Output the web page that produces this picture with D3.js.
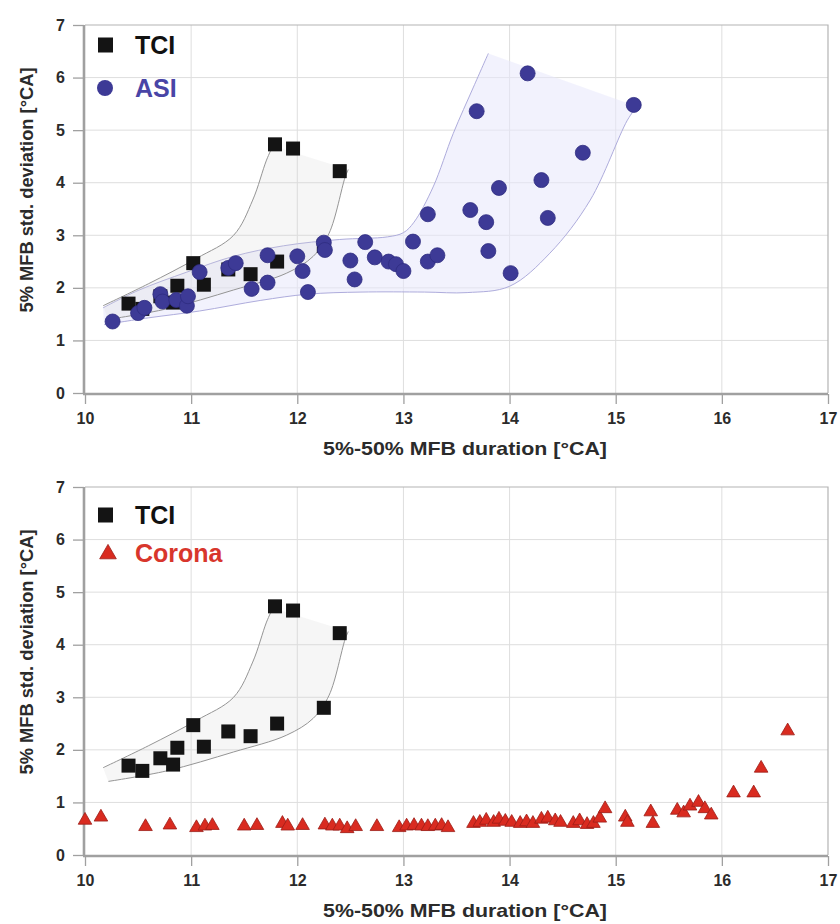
<!DOCTYPE html>
<html>
<head>
<meta charset="utf-8">
<script src="https://cdn.jsdelivr.net/npm/d3@7/dist/d3.min.js"></script>
<style>
  html, body { margin: 0; padding: 0; background: #fff; }
  svg { display: block; }
  text { font-family: "Liberation Sans", Arial, sans-serif; font-weight: bold; }
</style>
</head>
<body>
<svg id="chart" width="840" height="924"></svg>
<script>
// Axis ticks
const xTicks = [10, 11, 12, 13, 14, 15, 16, 17];
const yTicks = [0, 1, 2, 3, 4, 5, 6, 7];

// TCI: [5%-50% MFB duration, 5% MFB std. deviation]
const tciPoints = [
  [10.41, 1.70], [10.54, 1.60], [10.71, 1.84], [10.83, 1.72], [10.87, 2.04],
  [11.02, 2.47], [11.12, 2.06], [11.35, 2.35], [11.56, 2.26], [11.81, 2.50],
  [11.79, 4.73], [11.96, 4.65], [12.25, 2.80], [12.40, 4.22]
];

// ASI
const asiPoints = [
  [10.26, 1.36], [10.50, 1.52], [10.56, 1.62], [10.71, 1.88], [10.73, 1.74],
  [10.86, 1.77], [10.96, 1.66], [10.97, 1.84], [11.08, 2.30], [11.35, 2.38],
  [11.42, 2.47], [11.57, 1.98], [11.72, 2.10], [11.72, 2.62], [12.00, 2.60],
  [12.05, 2.32], [12.10, 1.92], [12.25, 2.86], [12.26, 2.72], [12.50, 2.52],
  [12.54, 2.16], [12.64, 2.87], [12.73, 2.58], [12.86, 2.50], [12.93, 2.45],
  [13.00, 2.32], [13.09, 2.88], [13.23, 3.40], [13.23, 2.50], [13.32, 2.62],
  [13.63, 3.48], [13.69, 5.36], [13.78, 3.25], [13.80, 2.70], [13.90, 3.90],
  [14.01, 2.28], [14.17, 6.08], [14.30, 4.05], [14.36, 3.33], [14.69, 4.57],
  [15.17, 5.48]
];

// Corona
const coronaPoints = [
  [10.00, 0.66], [10.15, 0.72], [10.57, 0.54], [10.80, 0.57], [11.05, 0.52],
  [11.13, 0.55], [11.20, 0.56], [11.50, 0.55], [11.62, 0.56], [11.86, 0.60],
  [11.91, 0.55], [12.05, 0.56], [12.26, 0.57], [12.33, 0.55], [12.40, 0.55],
  [12.47, 0.50], [12.55, 0.54], [12.75, 0.54], [12.96, 0.52], [13.03, 0.55],
  [13.10, 0.56], [13.17, 0.55], [13.23, 0.54], [13.30, 0.55], [13.36, 0.56],
  [13.42, 0.52], [13.66, 0.60], [13.72, 0.62], [13.78, 0.66], [13.85, 0.62],
  [13.90, 0.68], [13.96, 0.64], [14.02, 0.62], [14.10, 0.60], [14.16, 0.63],
  [14.22, 0.60], [14.30, 0.68], [14.36, 0.70], [14.43, 0.65], [14.48, 0.62],
  [14.60, 0.60], [14.66, 0.65], [14.73, 0.58], [14.79, 0.60], [14.85, 0.70],
  [14.90, 0.88], [15.09, 0.72], [15.11, 0.62], [15.33, 0.82], [15.35, 0.60],
  [15.58, 0.85], [15.64, 0.80], [15.70, 0.93], [15.78, 1.00], [15.84, 0.88],
  [15.90, 0.76], [16.11, 1.18], [16.30, 1.18], [16.37, 1.65], [16.62, 2.36]
];

// Hand-drawn scatter envelopes (upper edge, lower edge)
const tciBandUpper = [[10.17, 1.66], [10.60, 2.08], [11.05, 2.56], [11.40, 3.00], [11.58, 3.67], [11.71, 4.43], [11.77, 4.70]];
const tciBandLower = [[10.22, 1.40], [10.77, 1.60], [11.40, 1.96], [11.90, 2.28], [12.15, 2.60], [12.30, 3.04], [12.45, 4.10], [12.48, 4.25]];
const asiBandUpper = [[10.17, 1.62], [10.50, 1.95], [10.96, 2.30], [11.40, 2.60], [11.87, 2.80], [12.40, 2.92], [12.85, 2.97], [13.00, 3.05], [13.10, 3.25], [13.28, 3.92], [13.47, 4.94], [13.66, 5.82], [13.80, 6.46]];
const asiBandLower = [[10.18, 1.30], [10.60, 1.43], [11.08, 1.56], [11.65, 1.76], [12.10, 1.88], [12.60, 1.92], [13.20, 1.92], [13.60, 1.91], [14.00, 2.03], [14.38, 2.66], [14.76, 3.67], [15.11, 5.19], [15.20, 5.45]];

const xTitle = "5%-50% MFB duration [°CA]";
const yTitle = "5% MFB std. deviation [°CA]";

const C = {
  tci: "#141414",
  asi: "#3d3a96", asiText: "#4945a6",
  corona: "#d92b20", coronaStroke: "#9c1d16", coronaText: "#d8362c",
  text: "#2b2b2b", grid: "#dedede", frame: "#b4b4b4", axis: "#a0a0a0"
};

const svg = d3.select("#chart");
const x = d3.scaleLinear().domain([10, 17]).range([85, 828]);

function panel(top, series, legend) {
  const y = d3.scaleLinear().domain([0, 7]).range([top + 368, top]);
  const g = svg.append("g");
  const x0 = x.range()[0], x1 = x.range()[1], yb = y(0), yt = y(7);

  // grid
  g.append("g").selectAll("line").data(xTicks.slice(1, -1)).join("line")
    .attr("x1", d => x(d)).attr("x2", d => x(d)).attr("y1", yt).attr("y2", yb)
    .attr("stroke", C.grid).attr("stroke-width", 1);
  g.append("g").selectAll("line").data(yTicks.slice(1, -1)).join("line")
    .attr("x1", x0).attr("x2", x1).attr("y1", d => y(d)).attr("y2", d => y(d))
    .attr("stroke", C.grid).attr("stroke-width", 1);
  // frame top/right
  g.append("path").attr("d", `M${x0},${yt}H${x1}V${yb}`)
    .attr("fill", "none").attr("stroke", C.frame).attr("stroke-width", 1.2);

  const line = d3.line().x(d => x(d[0])).y(d => y(d[1])).curve(d3.curveCatmullRom.alpha(0.5));
  function band(upper, lower, fill, stroke) {
    const area = line(upper) + "L" + line(lower.slice().reverse()).slice(1) + "Z";
    g.append("path").attr("d", area).attr("fill", fill).attr("stroke", "none");
    g.append("path").attr("d", line(upper)).attr("fill", "none").attr("stroke", stroke).attr("stroke-width", 1);
    g.append("path").attr("d", line(lower)).attr("fill", "none").attr("stroke", stroke).attr("stroke-width", 1);
  }
  if (series.includes("asi")) band(asiBandUpper, asiBandLower, "rgba(232,232,252,0.55)", "#aeacdc");
  band(tciBandUpper, tciBandLower, "rgba(215,215,215,0.22)", "#959595");

  // axes (left, bottom)
  const yAxis = d3.axisLeft(y).tickValues(yTicks).tickSize(11).tickPadding(8).tickFormat(d3.format("d"));
  const xAxis = d3.axisBottom(x).tickValues(xTicks).tickSize(10).tickPadding(9).tickFormat(d3.format("d"));
  const ya = g.append("g").attr("transform", `translate(${x0 - 1},0)`).call(yAxis);
  const xa = g.append("g").attr("transform", `translate(0,${yb + 1})`).call(xAxis);
  [ya, xa].forEach(a => {
    a.select(".domain").attr("stroke", C.axis).attr("stroke-width", 2.6);
    a.selectAll(".tick line").attr("stroke", C.axis).attr("stroke-width", 1.3);
    a.selectAll(".tick text").attr("fill", C.text).style("font-size", "16px")
      .style("font-family", "'Liberation Sans', Arial, sans-serif").style("font-weight", "bold");
  });
  ya.select(".domain").attr("d", `M0,${yb + 1}V${yt}`);
  xa.select(".domain").attr("d", `M${x0 - 2},0H${x1}`);

  // markers
  const sq = 14;
  g.append("g").selectAll("rect").data(tciPoints).join("rect")
    .attr("x", d => x(d[0]) - sq / 2).attr("y", d => y(d[1]) - sq / 2)
    .attr("width", sq).attr("height", sq).attr("fill", C.tci);
  if (series.includes("asi")) {
    g.append("g").selectAll("circle").data(asiPoints).join("circle")
      .attr("cx", d => x(d[0])).attr("cy", d => y(d[1])).attr("r", 7.5)
      .attr("fill", C.asi).attr("stroke", "#2f2c80").attr("stroke-width", 0.8);
  }
  const tri = d3.symbol().type(d3.symbolTriangle).size(80);
  if (series.includes("corona")) {
    g.append("g").selectAll("path").data(coronaPoints).join("path")
      .attr("d", tri).attr("transform", d => `translate(${x(d[0])},${y(d[1])})`)
      .attr("fill", C.corona).attr("stroke", C.coronaStroke).attr("stroke-width", 0.8);
  }

  // titles
  g.append("text").attr("x", 465).attr("y", yb + 62).attr("text-anchor", "middle")
    .attr("fill", C.text).style("font-size", "19px")
    .attr("textLength", 284).attr("lengthAdjust", "spacingAndGlyphs").text(xTitle);
  g.append("text").attr("transform", `translate(33,${top + 165}) rotate(-90)`).attr("text-anchor", "middle")
    .attr("fill", C.text).style("font-size", "18px")
    .attr("textLength", 245).attr("lengthAdjust", "spacingAndGlyphs").text(yTitle);

  // legend
  const lg = g.append("g");
  legend.forEach((item, i) => {
    const cy = top + 20 + i * 38 + (item.dy || 0);
    if (item.shape === "square") {
      lg.append("rect").attr("x", 98).attr("y", cy - 7.5).attr("width", 15).attr("height", 15).attr("fill", C.tci);
    } else if (item.shape === "circle") {
      lg.append("circle").attr("cx", 105).attr("cy", cy).attr("r", 8).attr("fill", C.asi);
    } else {
      lg.append("path").attr("d", d3.symbol().type(d3.symbolTriangle).size(120))
        .attr("transform", `translate(108,${cy + 1})`).attr("fill", C.corona).attr("stroke", C.coronaStroke).attr("stroke-width", 0.8);
    }
    lg.append("text").attr("x", 135).attr("y", cy + 9).attr("fill", item.color)
      .style("font-size", "25px").text(item.label);
  });
}

panel(25, ["tci", "asi"], [
  { label: "TCI", shape: "square", color: "#111" },
  { label: "ASI", shape: "circle", color: C.asiText, dy: 5 }
]);
panel(487, ["tci", "corona"], [
  { label: "TCI", shape: "square", color: "#111", dy: 8 },
  { label: "Corona", shape: "triangle", color: C.coronaText, dy: 8 }
]);
</script>
</body>
</html>
